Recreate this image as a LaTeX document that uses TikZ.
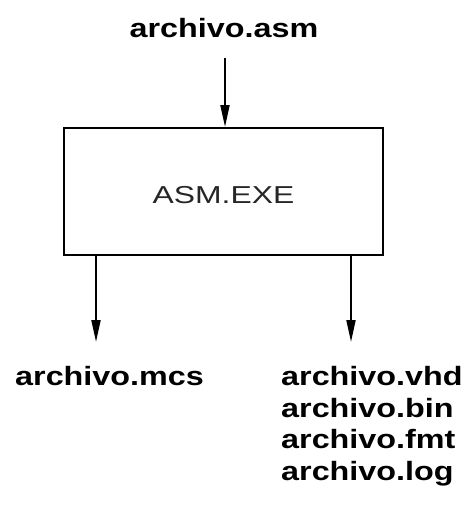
\documentclass[tikz,border=0pt]{standalone}
\usepackage{fontspec}
\setmainfont{Liberation Sans}
\usetikzlibrary{arrows.meta}
% file names are set in a widened bold sans
\newcommand{\fname}[1]{\scalebox{1.22}[1]{\bfseries #1}}
\newcommand{\pname}[1]{\raisebox{-3pt}[\height][0pt]{\scalebox{1.3}[1]{#1}}}
\begin{document}
\begin{tikzpicture}[x=1pt,y=-1pt,
  file/.style={inner sep=0pt,font=\fontsize{26.5}{31}\selectfont},
  prog/.style={draw,line width=2pt,minimum width=319pt,minimum height=127pt,
    inner sep=0pt,font=\fontsize{24.5}{31}\selectfont,text=black!85},
  arr/.style={line width=2pt,-{Triangle[length=22pt,width=9pt]}}]
  \useasboundingbox (0,0) rectangle (464,506);
  % program box
  \node[prog] (exe) at (223.5,191.5) {\pname{ASM.EXE}};
  % input file
  \node[file,anchor=base] (asm) at (224,37) {\fname{archivo.asm}};
  \coordinate (inA) at (225,58);
  \draw[arr] (inA) -- (inA |- exe.north);
  % output files
  \node[file,anchor=base west] (mcs) at (15,385) {\fname{archivo.mcs}};
  \node[file,anchor=base west] (vhd) at (281,385) {\fname{archivo.vhd}};
  \node[file,anchor=base west] (bin) at (281,417) {\fname{archivo.bin}};
  \node[file,anchor=base west] (fmt) at (281,448) {\fname{archivo.fmt}};
  \node[file,anchor=base west] (log) at (281,480) {\fname{archivo.log}};
  \coordinate (outL) at (96,342);
  \coordinate (outR) at (351,342);
  \draw[arr] (outL |- exe.south) -- (outL);
  \draw[arr] (outR |- exe.south) -- (outR);
\end{tikzpicture}
\end{document}
